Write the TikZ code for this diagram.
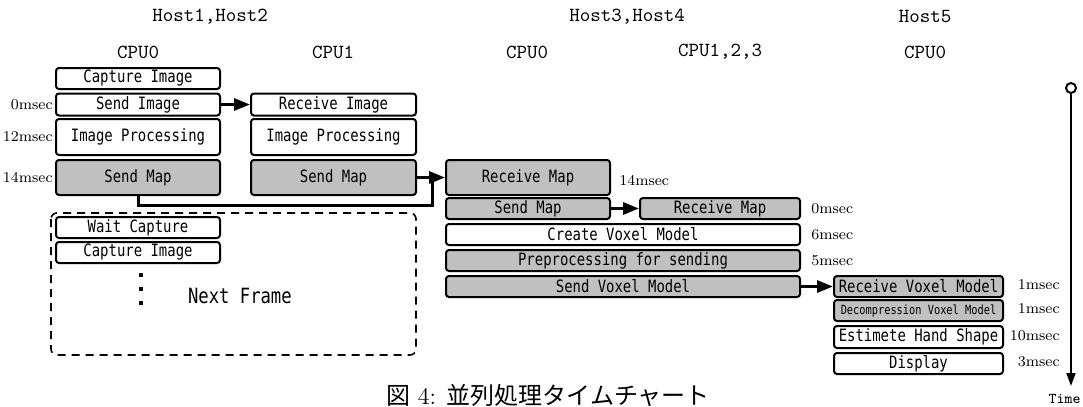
\documentclass[tikz,border=0pt]{standalone}
\usepackage{fontspec}
\newfontfamily\boxfont[FakeStretch=0.82]{DejaVu Sans Mono}
\newfontfamily\jpfont{Noto Sans CJK JP}
\usetikzlibrary{arrows.meta}
\definecolor{boxgray}{RGB}{192,192,192}
\tikzset{
	task/.style={draw, line width=1pt, rounded corners=1.5pt, inner sep=0pt, font=\boxfont\fontsize{8.5}{10}\selectfont},
	taskg/.style={task, fill=boxgray},
	sz/.style 2 args={minimum width=#1*0.5pt, minimum height=#2*0.5pt},
	msec/.style={font=\rmfamily\fontsize{7.5}{9}\selectfont, inner sep=1pt},
	head/.style={font=\ttfamily\fontsize{10}{12}\selectfont},
	flow/.style={line width=1.5pt, -{Triangle[length=8pt,width=6pt]}},
}
\begin{document}
\begin{tikzpicture}[x=0.5pt,y=-0.5pt]
	\useasboundingbox (0,0) rectangle (1083,407);
	% hosts and cpus
	\node[head] (h12) at (210,17) {Host1,Host2};
	\node[head] (h34) at (627,17) {Host3,Host4};
	\node[head] (h5) at (925,17) {Host5};
	\node[head] (c10) at (138,52) {CPU0};
	\node[head] (c11) at (333,52) {CPU1};
	\node[head] (c30) at (527,52) {CPU0};
	\node[head] (c31) at (720,52) {CPU1,2,3};
	\node[head] (c50) at (925,52) {CPU0};
	% host1,2
	\node[task, sz={164}{21}] (cap1) at (138,78.5) {Capture Image};
	\node[task, sz={164}{22}] (sendimg) at (138,104.5) {Send Image};
	\node[task, sz={164}{36}] (proc1) at (138,137) {Image Processing};
	\node[taskg, sz={164}{35}] (sendmap1) at (138,177.5) {Send Map};
	\node[task, sz={165}{22}] (recvimg) at (333.5,104.5) {Receive Image};
	\node[task, sz={165}{36}] (proc2) at (333.5,137) {Image Processing};
	\node[taskg, sz={165}{35}] (sendmap2) at (333.5,177.5) {Send Map};
	\node[msec, anchor=east] (t0a) at (sendimg.west) {0msec};
	\node[msec, anchor=east] (t12a) at (proc1.west) {12msec};
	\node[msec, anchor=east] (t14a) at (sendmap1.west) {14msec};
	% next frame
	\draw[line width=0.8pt, rounded corners=3pt, dash pattern=on 4pt off 3pt] (51,213) rectangle (416,355);
	\node[task, sz={164}{21}] (wait) at (138,227.5) {Wait Capture};
	\node[task, sz={164}{21}] (cap2) at (138,252.5) {Capture Image};
	\foreach \y in {275,289,303}
		\fill (139,\y-2) rectangle ++(4,4);
	\node[anchor=west, font=\boxfont\fontsize{10.5}{12}\selectfont] (next) at (181,296) {Next Frame};
	% host3,4
	\node[taskg, sz={164}{35}] (recvmap) at (528,177.5) {Receive Map};
	\node[taskg, sz={164}{21}] (sendmap3) at (528,208.5) {Send Map};
	\node[taskg, sz={160}{21}] (recvmap4) at (720,208.5) {Receive Map};
	\node[task, sz={354}{21}] (create) at (623,234.5) {Create Voxel Model};
	\node[taskg, sz={354}{21}] (prep) at (623,260.5) {Preprocessing for sending};
	\node[taskg, sz={354}{21}] (sendvox) at (623,286.5) {Send Voxel Model};
	\node[msec, anchor=west] (t14b) at (617,181) {14msec};
	\node[msec, anchor=west] (t0b) at (809,208.5) {0msec};
	\node[msec, anchor=west] (t6b) at (809,234.5) {6msec};
	\node[msec, anchor=west] (t5b) at (809,260.5) {5msec};
	% host5
	\node[taskg, sz={169}{21}] (recvvox) at (918.5,286.5) {Receive Voxel Model};
	\node[taskg, sz={169}{21}, font=\boxfont\fontsize{6.3}{8}\selectfont] (decomp) at (918.5,310.5) {Decompression Voxel Model};
	\node[task, sz={169}{22}] (est) at (918.5,337) {Estimete Hand Shape};
	\node[task, sz={169}{21}] (disp) at (918.5,363.5) {Display};
	\node[msec, anchor=east] (t1c) at (1062,285) {1msec};
	\node[msec, anchor=east] (t1d) at (1062,309) {1msec};
	\node[msec, anchor=east] (t10c) at (1062,336) {10msec};
	\node[msec, anchor=east] (t3c) at (1062,362) {3msec};
	% arrows
	\draw[flow] (sendimg) -- (recvimg);
	\draw[flow] (sendmap2) -- (recvmap);
	\coordinate (join) at (432,177.5);
	\draw[line width=1.5pt] (sendmap1.south) -- ++(0,9) -| (join);
	\draw[flow] (sendmap3) -- (recvmap4);
	\draw[flow] (sendvox) -- (recvvox);
	% time axis
	\node[circle, draw, line width=1pt, fill=white, inner sep=0pt, minimum size=5pt] (tstart) at (1071,88) {};
	\coordinate (tend) at (1071,386);
	\draw[line width=1pt, -{Triangle[length=6.5pt,width=4.5pt]}] (tstart) -- (tend);
	\node[anchor=east, inner sep=1pt, font=\ttfamily\fontsize{7.5}{9}\selectfont] (timelbl) at (1083,399) {Time};
	% caption
	\node[anchor=north, font=\fontsize{12}{14}\selectfont, inner sep=0pt] (caption) at (548,384) {{\jpfont 図} 4: {\jpfont 並列処理タイムチャート}};
\end{tikzpicture}
\end{document}
